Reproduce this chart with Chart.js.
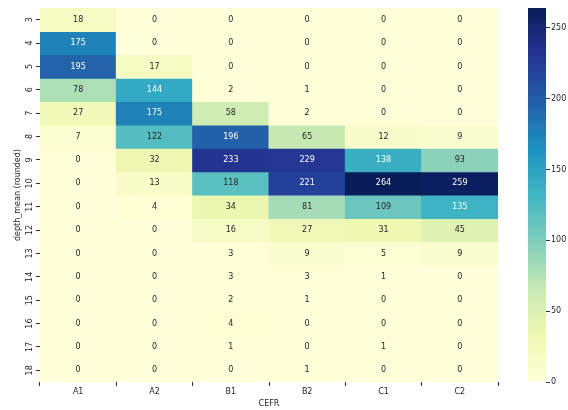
<!DOCTYPE html>
<html>
<head>
<meta charset="utf-8">
<script src="https://cdn.jsdelivr.net/npm/chart.js@4/dist/chart.umd.min.js"></script>
<style>
  html, body { margin: 0; padding: 0; background: #ffffff; }
  #wrap { position: relative; width: 568px; height: 410px; }
  #main { position: absolute; left: 0; top: 0; }
  #cbar { position: absolute; left: 500px; top: 0; }
</style>
</head>
<body>
<div id="wrap">
  <canvas id="main" width="568" height="410"></canvas>
  <canvas id="cbar" width="68" height="410"></canvas>
</div>
<script>
// ---- data ----
const depthRows = ['3','4','5','6','7','8','9','10','11','12','13','14','15','16','17','18'];
const cefrLevels = ['A1','A2','B1','B2','C1','C2'];
const countsA1 = [18,175,195,78,27,7,0,0,0,0,0,0,0,0,0,0];
const countsA2 = [0,0,17,144,175,122,32,13,4,0,0,0,0,0,0,0];
const countsB1 = [0,0,0,2,58,196,233,118,34,16,3,3,2,4,1,0];
const countsB2 = [0,0,0,1,2,65,229,221,81,27,9,3,1,0,0,1];
const countsC1 = [0,0,0,0,0,12,138,264,109,31,5,1,0,0,1,0];
const countsC2 = [0,0,0,0,0,9,93,259,135,45,9,0,0,0,0,0];
const colorbarTicks = [0,50,100,150,200,250];

const columns = [countsA1, countsA2, countsB1, countsB2, countsC1, countsC2];
const vmax = Math.max(...columns.flat());
const vmin = 0;

// ---- YlGnBu colormap ----
const ylgnbu = [[255,255,217],[237,248,177],[199,233,180],[127,205,187],[65,182,196],[29,145,192],[34,94,168],[37,52,148],[8,29,88]];
function cmapRGB(t) {
  t = Math.max(0, Math.min(1, t));
  const s = t * (ylgnbu.length - 1);
  const i = Math.min(ylgnbu.length - 2, Math.floor(s));
  const f = s - i;
  const a = ylgnbu[i], b = ylgnbu[i + 1];
  return [0,1,2].map(k => a[k] + (b[k] - a[k]) * f);
}
function rgbStr(c) { return 'rgb(' + c.map(v => Math.round(v)).join(',') + ')'; }
function colorFor(v) { return rgbStr(cmapRGB((v - vmin) / (vmax - vmin))); }
function luminance(c) {
  const lin = c.map(v => { v = v / 255; return v <= 0.03928 ? v / 12.92 : Math.pow((v + 0.055) / 1.055, 2.4); });
  return 0.2126 * lin[0] + 0.7152 * lin[1] + 0.0722 * lin[2];
}
function textColorFor(v) {
  return luminance(cmapRGB((v - vmin) / (vmax - vmin))) > 0.408 ? '#262626' : '#ffffff';
}

const FONT = 'DejaVu Sans';
const TXT = '#262626';

// ---- heatmap datasets: one per depth row ----
const datasets = depthRows.map((row, r) => ({
  label: row,
  data: cefrLevels.map(() => [r - 0.5, r + 0.5]),
  values: columns.map(col => col[r]),
  backgroundColor: columns.map(col => colorFor(col[r])),
  borderWidth: 0,
  inflateAmount: 0.5,
  grouped: false,
  barPercentage: 1,
  categoryPercentage: 1
}));

const annotate = {
  id: 'annotate',
  afterDatasetsDraw(chart) {
    const ctx = chart.ctx;
    ctx.save();
    ctx.font = '8px "' + FONT + '"';
    ctx.textAlign = 'center';
    ctx.textBaseline = 'middle';
    chart.data.datasets.forEach((ds, di) => {
      const meta = chart.getDatasetMeta(di);
      meta.data.forEach((el, i) => {
        const v = ds.values[i];
        ctx.fillStyle = textColorFor(v);
        ctx.fillText(String(v), el.x, (el.y + el.base) / 2);
      });
    });
    ctx.restore();
  }
};

new Chart(document.getElementById('main'), {
  type: 'bar',
  data: { labels: cefrLevels, datasets },
  options: {
    responsive: false,
    animation: false,
    devicePixelRatio: 1,
    layout: { padding: { top: 8, right: 70, left: 0, bottom: 0 } },
    plugins: { legend: { display: false }, tooltip: { enabled: false } },
    scales: {
      x: {
        type: 'category',
        offset: true,
        grid: { display: true, drawOnChartArea: false, drawTicks: true, tickLength: 4, color: '#333333' },
        border: { display: false },
        ticks: { color: TXT, font: { family: FONT, size: 8 }, padding: 1, maxRotation: 0, minRotation: 0 },
        title: { display: true, text: 'CEFR', color: TXT, font: { family: FONT, size: 8 }, padding: { top: 0, bottom: 1 } },
        afterFit(scale) { scale.height = 28; }
      },
      y: {
        type: 'linear',
        reverse: true,
        min: -0.5,
        max: depthRows.length - 0.5,
        afterBuildTicks(scale) { scale.ticks = depthRows.map((_, i) => ({ value: i })); },
        grid: { display: true, drawOnChartArea: false, drawTicks: true, tickLength: 4, color: '#333333' },
        border: { display: false },
        ticks: {
          color: TXT, font: { family: FONT, size: 8 }, padding: 1,
          minRotation: 90, maxRotation: 90, crossAlign: 'center',
          autoSkip: false,
          callback: (v) => depthRows[v] !== undefined ? depthRows[v] : ''
        },
        title: { display: true, text: 'depth_mean (rounded)', color: TXT, font: { family: FONT, size: 8 }, padding: { top: 13, bottom: 0 } },
        afterFit(scale) { scale.width = 40; }
      }
    }
  },
  plugins: [annotate]
});

// ---- colorbar ----
new Chart(document.getElementById('cbar'), {
  type: 'bar',
  data: {
    labels: ['cb'],
    datasets: [{
      data: [[vmin, vmax]],
      borderWidth: 0,
      barPercentage: 1,
      categoryPercentage: 1,
      backgroundColor(c) {
        const chart = c.chart;
        const ys = chart.scales && chart.scales.y;
        if (!ys || !chart.chartArea) return colorFor(vmax / 2);
        const y0 = ys.getPixelForValue(vmin), y1 = ys.getPixelForValue(vmax);
        const g = chart.ctx.createLinearGradient(0, y0, 0, y1);
        const n = 32;
        for (let k = 0; k <= n; k++) g.addColorStop(k / n, rgbStr(cmapRGB(k / n)));
        return g;
      }
    }]
  },
  options: {
    responsive: false,
    animation: false,
    devicePixelRatio: 1,
    layout: { padding: { top: 8, left: 28, right: 0, bottom: 28 } },
    plugins: { legend: { display: false }, tooltip: { enabled: false } },
    scales: {
      x: { type: 'category', display: false, offset: true },
      y: {
        type: 'linear',
        position: 'right',
        min: vmin,
        max: vmax,
        afterBuildTicks(scale) { scale.ticks = colorbarTicks.map(v => ({ value: v })); },
        grid: { display: true, drawOnChartArea: false, drawTicks: true, tickLength: 4, color: '#333333' },
        border: { display: false },
        ticks: { color: TXT, font: { family: FONT, size: 8 }, padding: 1 },
        afterFit(scale) { scale.width = 22; }
      }
    }
  }
});
</script>
</body>
</html>
